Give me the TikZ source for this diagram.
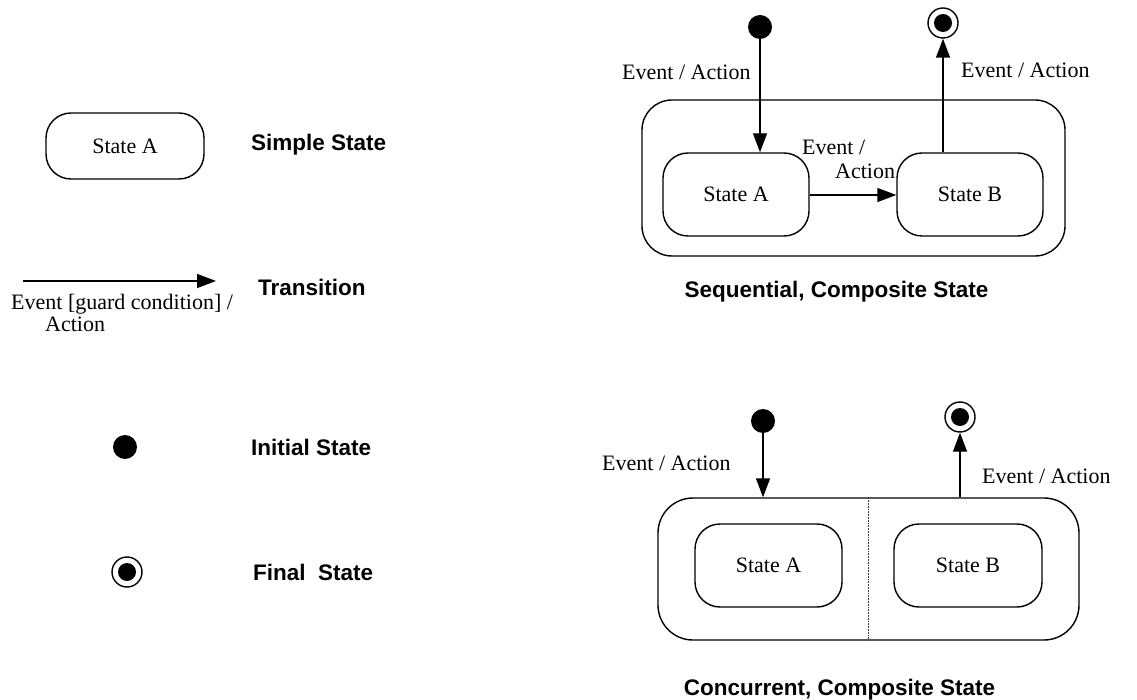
\documentclass[tikz,border=0pt]{standalone}
\usepackage{fontspec}
\setmainfont{Liberation Serif}
\newfontfamily\labelsans{Liberation Sans}
\usetikzlibrary{arrows.meta}
\begin{document}
\begin{tikzpicture}[x=1pt,y=-1pt,
  every node/.style={inner sep=0pt},
  serif/.style={font=\fontsize{22}{26}\selectfont},
  stbox/.style={draw, line width=1.4pt, rounded corners=25pt, minimum width=#1, minimum height=83pt, serif},
  compbox/.style={draw, line width=1.4pt, rounded corners=#1},
  lbl/.style={anchor=base west, serif},
  title/.style={font=\labelsans\bfseries\fontsize{22.5}{27}\selectfont},
  initst/.style={circle, fill=black, minimum size=24pt},
  finalst/.style={circle, draw, line width=1.4pt, minimum size=30pt,
     path picture={\fill[black] (path picture bounding box.center) circle (9pt);}},
  trans/.style={line width=1.4pt, -{Triangle[length=19pt,width=14pt]}}
]
\useasboundingbox[fill=white] (0,0) rectangle (1137,700);

% ---------- legend ----------
\node[draw, line width=1.4pt, rounded corners=25pt, minimum width=158pt, minimum height=66pt, serif] (simple) at (125,146) {State A};
\node[title, anchor=base west] (simpleT) at (251,151) {Simple State};

\coordinate (t0) at (23,281);
\coordinate (t1) at (216,281);
\draw[trans] (t0) -- (t1);
\node[lbl] (tl1) at (11,310) {Event [guard condition] /};
\node[lbl] (tl2) at (45,332) {Action};
\node[title, anchor=base west] (transT) at (258,296) {Transition};

\node[initst] (li) at (125,447) {};
\node[title, anchor=base west] (initT) at (251,455) {Initial State};

\node[finalst] (lf) at (127,572) {};
\node[title, anchor=base west] (finalT) at (253,580) {Final\ \ State};

% ---------- sequential composite ----------
\node[compbox=30pt, minimum width=423pt, minimum height=156pt] (seq) at (853.5,178) {};
\node[stbox=146pt] (sA) at (736,194.5) {State A};
\node[stbox=146pt] (sB) at (970,194.5) {State B};
\node[initst] (i1) at (760,27) {};
\node[finalst] (f1) at (943,23) {};
\draw[trans] (i1) -- (i1 |- sA.north);
\draw[trans] (sA.east |- 0,195) -- (sB.west |- 0,195);
\draw[trans] (sB.north -| f1) -- (f1);
\node[lbl] (e1) at (622,80) {Event / Action};
\node[lbl] (e2) at (961,78) {Event / Action};
\node[lbl] (e3a) at (802,155) {Event /};
\node[lbl] (e3b) at (835,179) {Action};
\node[title, anchor=base] (seqT) at (836.5,298) {Sequential, Composite State};

% ---------- concurrent composite ----------
\node[compbox=35pt, minimum width=421pt, minimum height=142pt] (conc) at (868.5,569) {};
\draw[black!75, line width=1.8pt, densely dotted] (conc.north) -- (conc.south);
\node[stbox=147pt] (cA) at (768.5,565.5) {State A};
\node[stbox=148pt] (cB) at (968,565.5) {State B};
\node[initst] (i2) at (763,421) {};
\node[finalst] (f2) at (960,417) {};
\draw[trans] (i2) -- (i2 |- conc.north);
\draw[trans] (conc.north -| f2) -- (f2);
\node[lbl] (e4) at (602,470) {Event / Action};
\node[lbl] (e5) at (982,483) {Event / Action};
\node[title, anchor=base] (concT) at (839.5,695) {Concurrent, Composite State};
\end{tikzpicture}
\end{document}
